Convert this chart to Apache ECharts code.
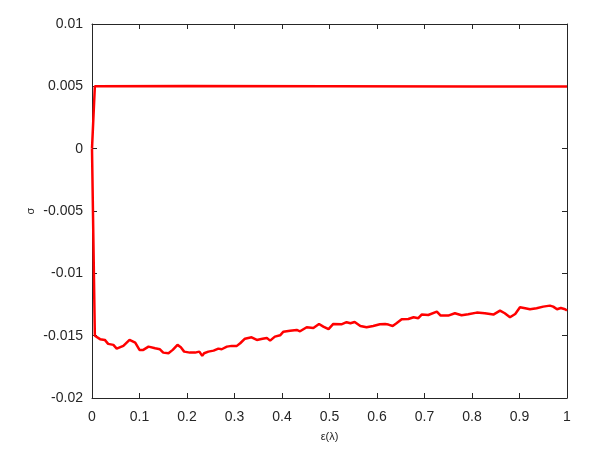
<!DOCTYPE html>
<html><head><meta charset="utf-8">
<script src="https://cdn.jsdelivr.net/npm/echarts@6/dist/echarts.min.js"></script>
<style>html,body{margin:0;padding:0;background:#fff}#c{width:613px;height:450px}</style>
</head><body><div id="c"></div>
<script>
const xTicks = [0,0.1,0.2,0.3,0.4,0.5,0.6,0.7,0.8,0.9,1];
const yTicks = [-0.02,-0.015,-0.01,-0.005,0,0.005,0.01];
const upperX = [0, 0.006, 0.2, 0.5, 0.8, 1.0];
const upperY = [0, 0.005, 0.00502, 0.00501, 0.00499, 0.00498];
const lowerX = [0,0.006,0.017,0.027,0.034,0.045,0.052,0.066,0.079,0.091,0.100,0.108,0.119,0.133,0.143,0.150,0.161,0.170,0.180,0.187,0.194,0.206,0.217,0.226,0.232,0.236,0.245,0.256,0.266,0.273,0.284,0.294,0.305,0.312,0.322,0.336,0.347,0.359,0.368,0.375,0.385,0.396,0.403,0.417,0.431,0.438,0.452,0.466,0.478,0.487,0.498,0.508,0.525,0.536,0.544,0.553,0.565,0.578,0.592,0.606,0.617,0.624,0.633,0.641,0.652,0.666,0.677,0.687,0.694,0.708,0.726,0.734,0.750,0.764,0.778,0.792,0.810,0.827,0.845,0.859,0.869,0.880,0.891,0.901,0.912,0.922,0.936,0.950,0.964,0.971,0.979,0.987,0.996,1.0];
const lowerY = [0,-0.0150,-0.01528,-0.01534,-0.01566,-0.01574,-0.01604,-0.01582,-0.01534,-0.01556,-0.01614,-0.01614,-0.01588,-0.01601,-0.01609,-0.01636,-0.01641,-0.01614,-0.01574,-0.01593,-0.01628,-0.01636,-0.01636,-0.01628,-0.01662,-0.01641,-0.01628,-0.0162,-0.01604,-0.01609,-0.01588,-0.01582,-0.01582,-0.01561,-0.01524,-0.01513,-0.01534,-0.01524,-0.01518,-0.0154,-0.01508,-0.01497,-0.01468,-0.0146,-0.01454,-0.01465,-0.01432,-0.01438,-0.01406,-0.01427,-0.01448,-0.01406,-0.01409,-0.01392,-0.014,-0.0139,-0.01422,-0.01432,-0.01422,-0.01409,-0.01406,-0.01411,-0.01422,-0.014,-0.01368,-0.01366,-0.01352,-0.0136,-0.01331,-0.01334,-0.01307,-0.01339,-0.01339,-0.0132,-0.01336,-0.01328,-0.01315,-0.0132,-0.01331,-0.01299,-0.0132,-0.01352,-0.01326,-0.01272,-0.0128,-0.01288,-0.0128,-0.01267,-0.01259,-0.01267,-0.01288,-0.01278,-0.01288,-0.01299];

const fmt = v => { const r = Math.round(v*1000)/1000; return String(r); };
const axisColor = '#262626';
const font = 'Helvetica, Arial, "Liberation Sans", sans-serif';
const chart = echarts.init(document.getElementById('c'));
const baseX = {type:'value', min:0, max:1, interval:0.1,
  axisLine:{show:true, onZero:false, lineStyle:{color:axisColor,width:1}},
  axisTick:{show:true, inside:true, length:5, lineStyle:{color:axisColor}},
  splitLine:{show:false}};
const baseY = {type:'value', min:-0.02, max:0.01, interval:0.005,
  axisLine:{show:true, onZero:false, lineStyle:{color:axisColor,width:1}},
  axisTick:{show:true, inside:true, length:5, lineStyle:{color:axisColor}},
  splitLine:{show:false}};
chart.setOption({
  animation:false,
  backgroundColor:'#fff',
  grid:{left:92, right:46, top:24, bottom:52},
  xAxis:[
    Object.assign({}, baseX, {position:'bottom', name:'ε(λ)', nameLocation:'middle', nameGap:33, nameMoveOverlap:false,
      nameTextStyle:{fontSize:11, color:axisColor, fontFamily:font},
      axisLabel:{fontSize:14, color:axisColor, fontFamily:font, margin:12, formatter:fmt}}),
    Object.assign({}, baseX, {position:'top', axisLabel:{show:false}})
  ],
  yAxis:[
    Object.assign({}, baseY, {position:'left', name:'σ', nameLocation:'middle', nameGap:56, nameMoveOverlap:false,
      nameTextStyle:{fontSize:11, color:axisColor, fontFamily:font},
      axisLabel:{fontSize:14, color:axisColor, fontFamily:font, margin:9, formatter:fmt}}),
    Object.assign({}, baseY, {position:'right', axisLabel:{show:false}})
  ],
  series:[
    {type:'line', xAxisIndex:0, yAxisIndex:0, showSymbol:false, symbol:'none',
     lineStyle:{color:'#ff0000', width:2.5}, data: upperX.map((x,i)=>[x, upperY[i]])},
    {type:'line', xAxisIndex:0, yAxisIndex:0, showSymbol:false, symbol:'none',
     lineStyle:{color:'#ff0000', width:2.5}, data: lowerX.map((x,i)=>[x, lowerY[i]])}
  ]
});
</script></body></html>
